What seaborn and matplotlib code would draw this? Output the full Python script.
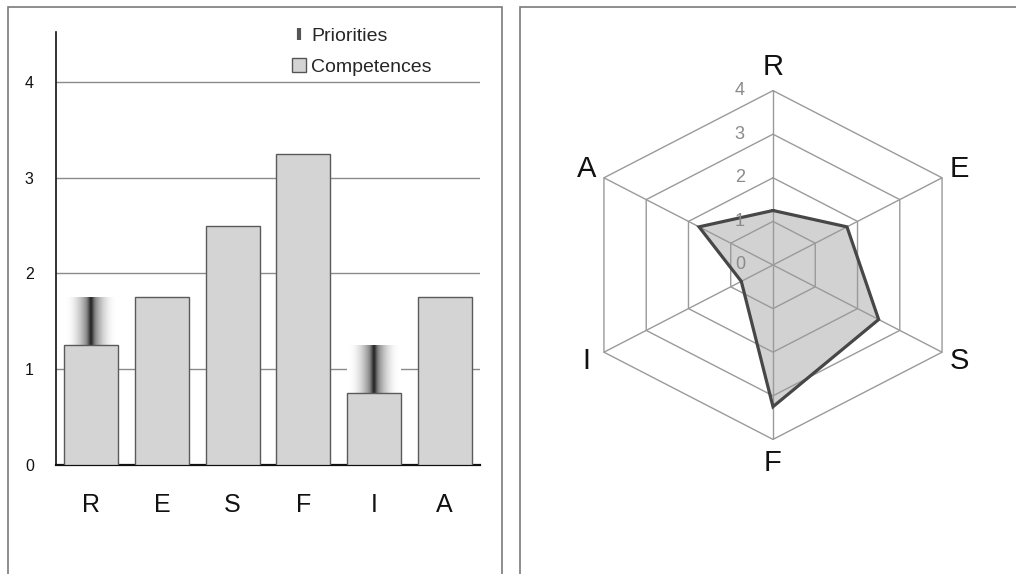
import numpy as np
import pandas as pd
import matplotlib
matplotlib.use("Agg")
import matplotlib.pyplot as plt
import seaborn as sns
from matplotlib.patches import Rectangle, Patch
from matplotlib.lines import Line2D

# RIASEC-style profile: competence levels and priority targets per dimension
categories = ["R", "E", "S", "F", "I", "A"]
competences = [1.25, 1.75, 2.5, 3.25, 0.75, 1.75]
priorities = [1.75, None, None, None, 1.25, None]
y_ticks = [0, 1, 2, 3, 4]
radial_ticks = [0, 1, 2, 3, 4]

sns.set_theme(style="white")
plt.rcParams["font.family"] = ["Liberation Sans", "DejaVu Sans"]

W, H = 1016, 574
fig = plt.figure(figsize=(W / 100, H / 100), dpi=100)
fig.patch.set_facecolor("white")


def fx(px):
    return px / W


def fy(py):
    return 1 - py / H


# framed panels
for x0, x1 in [(8, 502), (520, 1040)]:
    fig.add_artist(Rectangle((fx(x0), -0.05), fx(x1) - fx(x0), fy(7) + 0.05,
                             transform=fig.transFigure, fill=False,
                             edgecolor="#7a7a7a", lw=1.2, zorder=0))

# ---- bar chart ----
ax = fig.add_axes([fx(56), fy(465), fx(480) - fx(56), fy(32) - fy(465)])
df = pd.DataFrame({"category": categories, "competence": competences})
sns.barplot(data=df, x="category", y="competence", ax=ax, color="#d4d4d4",
            saturation=1, width=0.76, edgecolor="#5a5a5a", linewidth=1.0,
            zorder=3)

# priority gap shown as a horizontal dark-centre gradient above the bar
u = np.linspace(0, 1, 256)
d = np.abs(u - 0.5)
shade = 1 - 0.68 * (1 - 2 * d) ** 2.2 - 0.18 * np.exp(-(d / 0.05) ** 2)
grad = np.repeat(shade[None, :], 2, axis=0)
bars = [p for p in ax.patches if isinstance(p, Rectangle)]
for bar, c, p in zip(bars, competences, priorities):
    if p is None:
        continue
    x0 = bar.get_x()
    ax.imshow(grad, cmap="gray", vmin=0, vmax=1, aspect="auto",
              extent=(x0, x0 + bar.get_width(), c, p), zorder=2.5,
              interpolation="bilinear")

ax.set_xlim(-0.5, len(categories) - 0.5)
ax.set_ylim(0, 4.52)
ax.set_yticks(y_ticks)
ax.set_xlabel("")
ax.set_ylabel("")
ax.yaxis.grid(True, color="#8a8a8a", lw=1.0)
ax.xaxis.grid(False)
ax.set_axisbelow(True)
for s in ["top", "right"]:
    ax.spines[s].set_visible(False)
ax.spines["left"].set_color("#111111")
ax.spines["left"].set_linewidth(1.2)
ax.spines["bottom"].set_color("#111111")
ax.spines["bottom"].set_linewidth(1.6)
ax.tick_params(axis="y", length=0, pad=16, labelsize=11.5, colors="#111111")
ax.tick_params(axis="x", length=0, pad=20, labelsize=18, colors="#111111")

handles = [
    Line2D([], [], linestyle="none", marker="|", markersize=9,
           markeredgewidth=3, color="#555555"),
    Patch(facecolor="#d4d4d4", edgecolor="#555555", linewidth=1.0),
]
fig.legend(handles, ["Priorities", "Competences"], loc="upper left",
           bbox_to_anchor=(fx(292), fy(27)), frameon=False, fontsize=14,
           handlelength=0.7, handleheight=0.7, handletextpad=0.3,
           labelspacing=0.7, borderpad=0, borderaxespad=0)

# ---- radar chart ----
rx = fig.add_axes([fx(560), fy(500), fx(990) - fx(560), fy(40) - fy(500)])
xlim = (-213 / 48.8, 217 / 48.8)
ylim = (-235 / 43.6, 225 / 43.6)

n = len(categories)
theta = np.arange(n) * 2 * np.pi / n
sx, sy = np.sin(theta), np.cos(theta)

vals = np.array(competences)
rx.fill(vals * sx, vals * sy, color="#d2d2d2", zorder=1, lw=0)

rmax = max(radial_ticks)
for r in radial_ticks[1:]:
    rx.plot(np.append(r * sx, r * sx[0]), np.append(r * sy, r * sy[0]),
            color="#9a9a9a", lw=1.0, zorder=2)
for k in range(n):
    rx.plot([0, rmax * sx[k]], [0, rmax * sy[k]], color="#9a9a9a", lw=1.0,
            zorder=2)

rx.plot(np.append(vals * sx, vals[0] * sx[0]),
        np.append(vals * sy, vals[0] * sy[0]),
        color="#474747", lw=2.3, zorder=3, solid_joinstyle="miter")

for r in radial_ticks:
    rx.text(-0.68, r, str(r), ha="center", va="center", fontsize=13,
            color="#8a8a8a", zorder=4)

for k, lab in enumerate(categories):
    rr = 4.55 if abs(sx[k]) < 0.01 else 4.42
    rx.text(rr * sx[k], rr * sy[k], lab, ha="center", va="center",
            fontsize=21, color="#111111")

rx.set_xlim(*xlim)
rx.set_ylim(*ylim)
rx.axis("off")

fig.savefig("out.png", dpi=100, facecolor="white")
